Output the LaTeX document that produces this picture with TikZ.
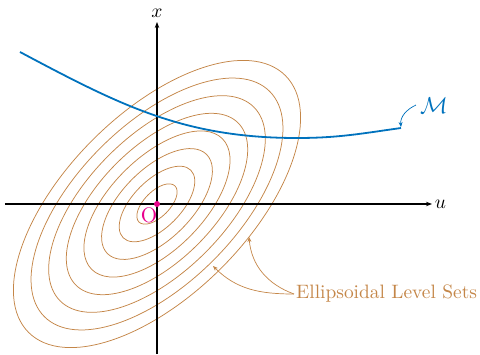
\documentclass[tikz,border=0pt]{standalone}
\usetikzlibrary{arrows.meta}
\definecolor{mblue}{RGB}{0,114,189}
\definecolor{ellc}{RGB}{196,134,72}
\definecolor{omag}{RGB}{232,0,140}
\begin{document}
\begin{tikzpicture}[x=1pt,y=1pt,
  axis/.style={line width=1.1pt,-{Stealth[length=6pt,width=4.5pt]}},
  levelset/.style={ellc,line width=0.75pt},
  thinarrow/.style={line width=0.7pt,-{Stealth[length=5pt,width=4pt]}},
  lab/.style={inner sep=0pt}]
\useasboundingbox (-157,-150) rectangle (323,204);
% level sets
\foreach \k in {1,...,8}{
  \pgfmathsetmacro\bb{1.6+11.15*\k}
  \draw[levelset,rotate=45] (0,0) ellipse [x radius=2*\bb, y radius=\bb];
}
% axes
\coordinate (uL) at (-152,0);
\coordinate (uR) at (275,0);
\coordinate (xB) at (0,-150);
\coordinate (xT) at (0,182);
\draw[axis] (uL) -- (uR);
\draw[axis] (xB) -- (xT);
\node[lab] (ulab) at (283.5,0) {\scalebox{1.95}{$u$}};
\node[lab] (xlab) at (0,191) {\scalebox{1.95}{$x$}};
% manifold
\coordinate (mstart) at (-137,152);
\coordinate (mlow) at (140,66);
\coordinate (mend) at (244,76);
\draw[mblue,line width=1.8pt] (mstart) to[out=-28,in=180] (mlow) to[out=0,in=188] (mend);
\node[mblue,lab] (mlab) at (277,98) {\scalebox{2.3}{$\mathcal{M}$}};
\draw[mblue,thinarrow] ([xshift=-4pt,yshift=1pt]mlab.west) to[out=205,in=95] ([yshift=1pt]mend);
% origin
\node[circle,fill=omag,inner sep=0pt,minimum size=6pt] (o) at (0,0) {};
\node[omag,lab] (olab) at (-8,-11) {\scalebox{2.1}{O}};
% level set label
\node[ellc,anchor=west,lab] (elab) at (139,-90) {\scalebox{1.94}{Ellipsoidal Level Sets}};
\coordinate (t1) at (56,-62);
\coordinate (t2) at (92,-33);
\draw[ellc,thinarrow] ([xshift=-2pt]elab.west) to[out=180,in=-45] (t1);
\draw[ellc,thinarrow] ([xshift=-2pt]elab.west) to[out=160,in=-85] (t2);
\end{tikzpicture}
\end{document}
